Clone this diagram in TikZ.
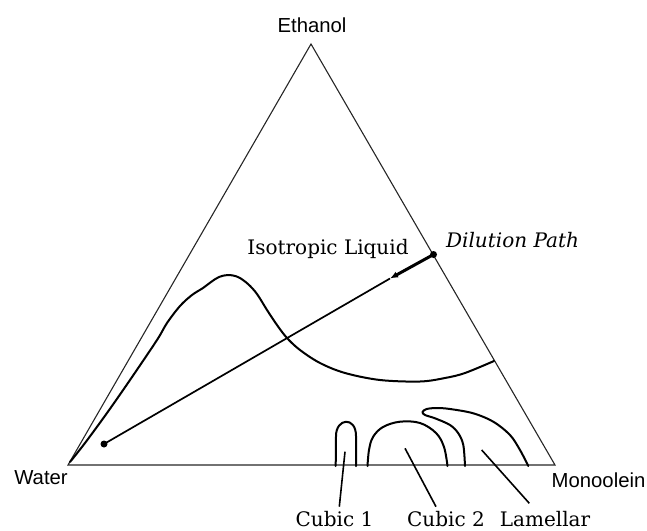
\documentclass[tikz,border=0pt]{standalone}
\usepackage{fontspec}
\setmainfont{DejaVu Serif}
\setsansfont{Liberation Sans}
\usetikzlibrary{arrows.meta}
\begin{document}
\begin{tikzpicture}[x=1pt,y=-1pt,
  edge/.style={line width=1.1pt, black!85},
  phase/.style={line width=2pt, line join=round, line cap=round},
  leader/.style={line width=1.6pt},
  sanslab/.style={font=\sffamily\fontsize{20.3}{24}\selectfont, inner sep=0, anchor=base},
  seriflab/.style={font=\fontsize{20}{24}\selectfont, inner sep=0, anchor=base},
  dot/.style={circle, fill, inner sep=0, minimum size=7pt}]
\useasboundingbox (0,0) rectangle (647,530);
% triangle
\coordinate (W) at (68,465);
\coordinate (E) at (311,44);
\coordinate (M) at (555,465);
\draw[edge] (W) -- (E) -- (M) -- cycle;
\node[sanslab] (lE) at (312,32.5) {Ethanol};
\node[sanslab] (lW) at (41,484) {Water};
\node[sanslab, anchor=base west] (lM) at (551.5,487) {Monoolein};
% region labels
\node[seriflab] (lIso) at (328,254) {Isotropic Liquid};
\node[seriflab] (lDil) at (512.5,247.5) {\itshape Dilution Path};
% dilution path
\node[dot] (d1) at (104,444) {};
\node[dot] (d2) at (433.5,254.5) {};
\coordinate (ar) at (390,278.5);
\draw[line width=1.7pt] (d1.center) -- (ar);
\draw[line width=3pt, -{Latex[length=8pt,width=6.5pt]}] (d2.center) -- (ar);
% boundary curve of the isotropic liquid
\draw[phase] plot[smooth, tension=0.55] coordinates {
  (70,462) (85,443) (107,413) (130,380) (157,340) (167,323) (180,306)
  (192,295) (203,288) (211,282) (219,277) (228,275) (238,277) (248,284)
  (257,294) (267,310) (277,325) (287,338) (300,350) (320,363) (345,373)
  (380,380) (420,381.5) (445,378) (465,373) (494,361)};
% Cubic 1
\draw[phase] (335.7,466) -- (336,436) .. controls (336,418) and (356,416) .. (356,436) -- (356,466);
% Cubic 2
\draw[phase] plot[smooth, tension=0.6] coordinates {
  (367.5,466) (369,450) (373,437) (383,427) (400,421.7) (420,423) (436,433) (444,447) (447.5,466)};
% Lamellar boundary
\draw[phase] plot[smooth, tension=0.55] coordinates {
  (465,466) (463.3,445) (458.3,433.3) (450,425) (435,418.3) (425,415) (422.5,412)
  (426.7,409) (436.7,408) (450,409) (473.3,413.3) (493.3,421.7) (510,435) (520,450) (528.3,466)};
% labels of the phases and leaders
\node[seriflab] (lC1) at (334.5,526) {Cubic 1};
\node[seriflab] (lC2) at (446,526) {Cubic 2};
\node[seriflab] (lLa) at (545,526) {Lamellar};
\coordinate (c1a) at (345,451.7);
\coordinate (c1b) at (339.3,506.7);
\coordinate (c2a) at (405,448.3);
\coordinate (c2b) at (436,506.7);
\coordinate (laa) at (481.7,450);
\coordinate (lab) at (529.3,503.3);
\draw[leader] (c1a) -- (c1b);
\draw[leader] (c2a) -- (c2b);
\draw[leader] (laa) -- (lab);
\end{tikzpicture}
\end{document}
